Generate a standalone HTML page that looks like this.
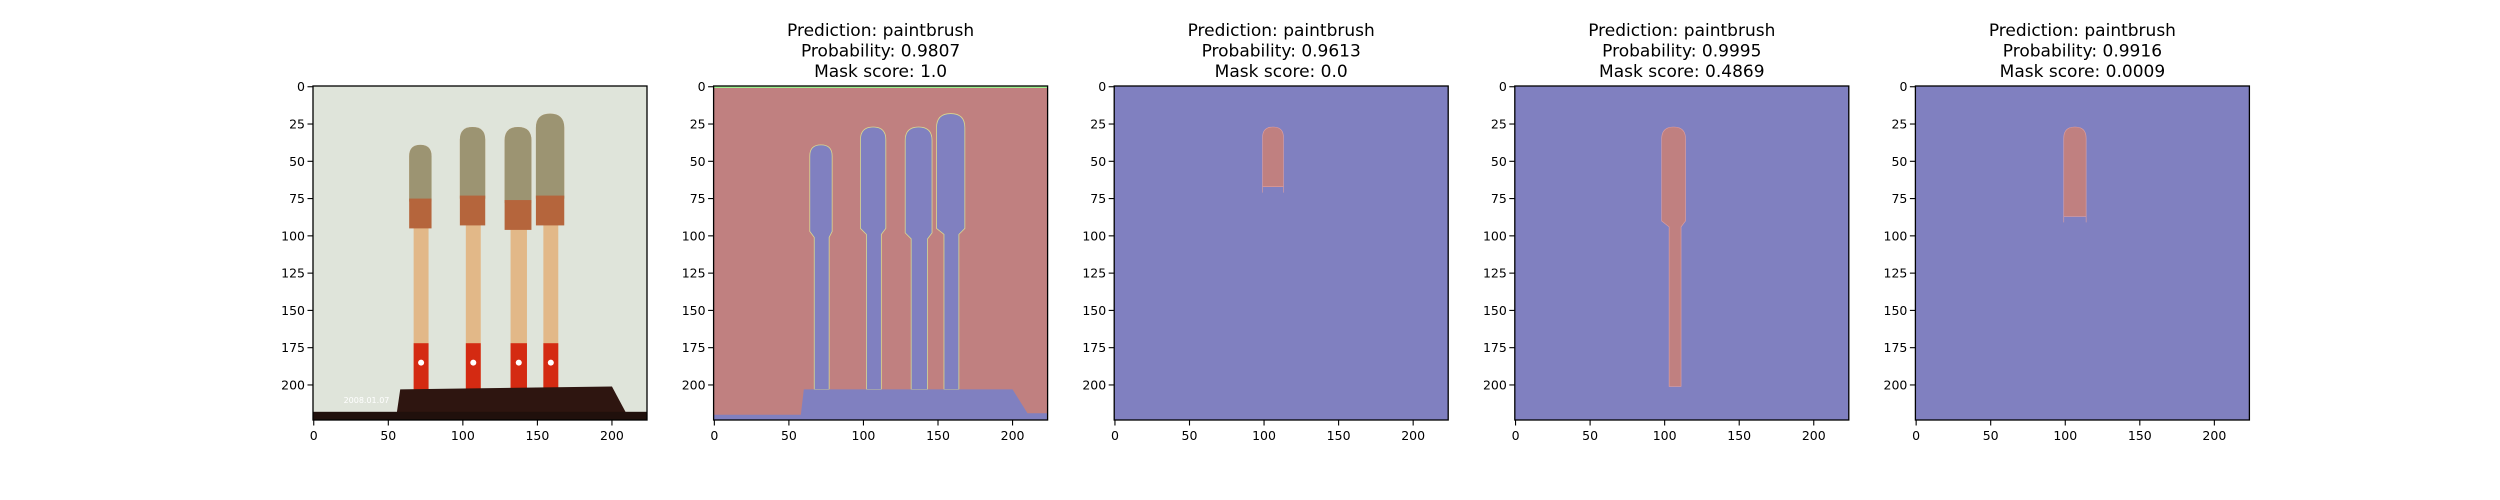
<!DOCTYPE html>
<html><head><meta charset="utf-8"><style>
html,body{margin:0;padding:0;background:#fff;}
svg{display:block;font-family:"DejaVu Sans","Liberation Sans",sans-serif;}
</style></head><body>
<svg id="fig" width="2500" height="500" viewBox="0 0 2500 500" xmlns="http://www.w3.org/2000/svg"></svg>
<script>
const titles = [null,
  ["Prediction: paintbrush","Probability: 0.9807","Mask score: 1.0"],
  ["Prediction: paintbrush","Probability: 0.9613","Mask score: 0.0"],
  ["Prediction: paintbrush","Probability: 0.9995","Mask score: 0.4869"],
  ["Prediction: paintbrush","Probability: 0.9916","Mask score: 0.0009"]];
const xTicks = [0,50,100,150,200];
const yTicks = [0,25,50,75,100,125,150,175,200];
// brushes: [headLeft, headRight, top, headBottom, handleLeft, handleRight, handleBottom]
const brushes = [[64,79,39,97,67,77,203],[98,115,27,95,102,112,203],[128,146,27,98,132,143,203],[149,168,18,95,154,164,203]];
// masks for panels 3-5 (red region) : [left,right,top,bottom,handleLeft,handleRight,handleBottom]
const masks3 = [99,113,27,67,99,113,67];
const masks4 = [98,114,27,90,103,111,201];
const masks5 = [99,114,27,87,99,114,87];
// base polygon (data coords)
const baseTop = 203, baseX0 = 60, baseX1 = 200, baseX2 = 210;

const NS="http://www.w3.org/2000/svg";
const svg=document.getElementById('fig');
const P0=313, PSTEP=400.6, PT=86, PS=334;
const scale=PS/224;
function mk(tag,attrs,parent){const e=document.createElementNS(NS,tag);for(const k in attrs)e.setAttribute(k,attrs[k]);(parent||svg).appendChild(e);return e;}
function X(i,v){return P0+i*PSTEP+(v+0.5)*scale;}
function Y(v){return PT+(v+0.5)*scale;}
function brushPath(i,b){
  const [hl,hr,t,hb,nl,nr,nb]=b, r=(hr-hl)/2;
  return `M${X(i,hl)},${Y(hb)} L${X(i,hl)},${Y(t+r)} Q${X(i,hl)},${Y(t)} ${X(i,(hl+hr)/2)},${Y(t)} Q${X(i,hr)},${Y(t)} ${X(i,hr)},${Y(t+r)} L${X(i,hr)},${Y(hb)} L${X(i,nr)},${Y(hb+4)} L${X(i,nr)},${Y(nb)} L${X(i,nl)},${Y(nb)} L${X(i,nl)},${Y(hb+4)} Z`;
}
const BLUE="#8080c0", RED="#c08080";
for(let i=0;i<5;i++){
  const g=mk('g',{});
  
  
  const x0=P0+i*PSTEP;
  if(i===0){
    const bg=mk('rect',{x:x0,y:PT,width:PS,height:PS,fill:"#dfe4da"},g);
    
    
    brushes.forEach((b,k)=>{
      const [hl,hr,t,hb,nl,nr,nb]=b;
      const hd=mk('path',{d:brushPath(0,[hl,hr,t,hb-20,nl,nr,nb]),fill:"#e2b888"},g);
      
      
      const r=(hr-hl)/2;
      mk('path',{d:`M${X(0,hl)},${Y(hb-20)} L${X(0,hl)},${Y(t+r)} Q${X(0,hl)},${Y(t)} ${X(0,(hl+hr)/2)},${Y(t)} Q${X(0,hr)},${Y(t)} ${X(0,hr)},${Y(t+r)} L${X(0,hr)},${Y(hb-20)} Z`,fill:"#9c9472"},g);
      mk('rect',{x:X(0,hl),y:Y(hb-22),width:(hr-hl)*scale,height:20*scale,fill:"#b5653c"},g);
      mk('rect',{x:X(0,nl),y:Y(172),width:(nr-nl)*scale,height:31*scale,fill:"#d42a12"},g);
      mk('circle',{cx:X(0,(nl+nr)/2),cy:Y(185),r:3,fill:"#fff"},g);
    });
    const base=mk('polygon',{points:`${X(0,58)},${Y(baseTop)} ${X(0,baseX1)},${Y(baseTop-2)} ${X(0,baseX2+2)},${Y(223.5)} ${X(0,55)},${Y(223.5)}`,fill:"#2e1510"},g);
    
    
    mk('rect',{x:x0,y:Y(218),width:PS,height:PT+PS-Y(218),fill:"#20100c"},g);
    mk('text',{x:X(0,20),y:Y(212),'font-size':8,fill:"#fff"},g).textContent="2008.01.07";
  } else {
    if(i===1){
      mk('rect',{x:x0,y:PT,width:PS,height:PS,fill:RED},g);
      mk('line',{x1:x0,y1:PT+1,x2:x0+PS,y2:PT+1,stroke:"#a0f090","stroke-width":2},g);
      brushes.forEach((b,k)=>{
        const p=mk('path',{d:brushPath(1,b),fill:BLUE,stroke:"#d8d890","stroke-width":0.8},g);
        
        
      });
      const bs=mk('polygon',{points:`${X(1,baseX0)},${Y(baseTop)} ${X(1,baseX1)},${Y(baseTop)} ${X(1,baseX2)},${Y(219)} ${X(1,223.5)},${Y(219)} ${X(1,223.5)},${Y(223.5)} ${X(1,-0.5)},${Y(223.5)} ${X(1,-0.5)},${Y(220)} ${X(1,58)},${Y(220)}`,fill:BLUE},g);
      
      
    } else {
      mk('rect',{x:x0,y:PT,width:PS,height:PS,fill:BLUE},g);
      const m=[null,null,masks3,masks4,masks5][i];
      const p=mk('path',{d:brushPath(i,m),fill:RED,stroke:"#e0a0a0","stroke-width":0.6},g);
      
      
    }
    const t=titles[i];
    t.forEach((s,k)=>{
      const tx=mk('text',{x:x0+PS/2,y:36+k*20.5,'font-size':17,'text-anchor':'middle',fill:"#000"});
      
      
      tx.textContent=s;
    });
  }
  const fr=mk('rect',{x:x0,y:PT,width:PS,height:PS,fill:"none",stroke:"#000","stroke-width":1.3},g);
  
  
  xTicks.forEach(v=>{
    const xx=X(i,v);
    mk('line',{x1:xx,y1:PT+PS,x2:xx,y2:PT+PS+5.5,stroke:"#000","stroke-width":1.1},g);
    const tl=mk('text',{x:xx,y:PT+PS+20,'font-size':12.5,'text-anchor':'middle'},g);
    
    
    tl.textContent=v;
  });
  yTicks.forEach(v=>{
    const yy=Y(v);
    mk('line',{x1:x0-5.5,y1:yy,x2:x0,y2:yy,stroke:"#000","stroke-width":1.1},g);
    const tl=mk('text',{x:x0-8,y:yy+4.5,'font-size':12.5,'text-anchor':'end'},g);
    
    
    tl.textContent=v;
  });
}
</script>
</body></html>
